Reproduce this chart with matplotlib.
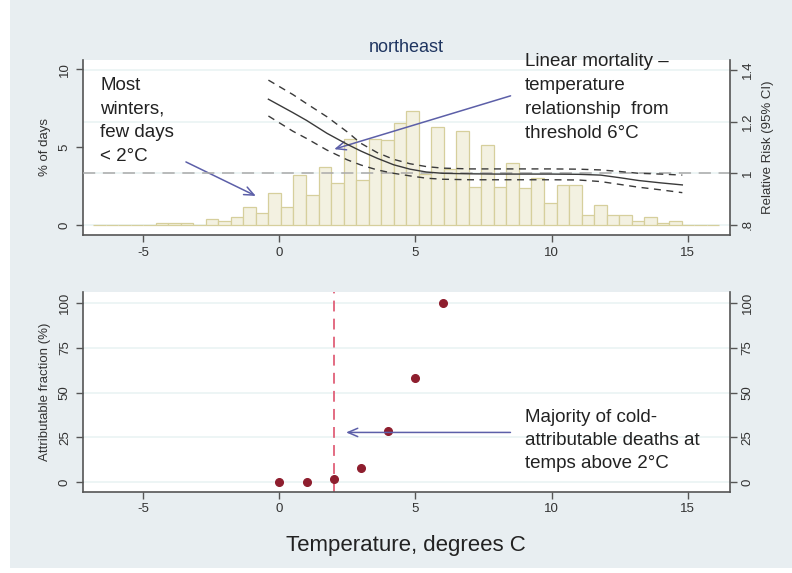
import matplotlib
matplotlib.use("Agg")
from matplotlib import pyplot as plt
from matplotlib.patches import Rectangle

plt.rcParams['font.family'] = ['Liberation Sans', 'DejaVu Sans']

# histogram of daily temperature (% of days), bins of 0.46 C starting at -6.84
hist_start = -6.84
bin_width = 0.46
pct_days = [0.02, 0.02, 0.02, 0.02, 0.02, 0.12, 0.12, 0.12, 0.03, 0.39,
            0.28, 0.49, 1.18, 0.79, 2.07, 1.18, 3.21, 1.95, 3.74, 2.72,
            5.55, 2.86, 5.55, 5.46, 6.55, 7.30, 3.30, 6.27, 3.60, 6.05,
            2.44, 5.14, 2.44, 3.98, 2.36, 3.00, 1.43, 2.57, 2.57, 0.64,
            1.28, 0.64, 0.64, 0.26, 0.49, 0.15, 0.26, 0.02, 0.02, 0.02]

# relative risk curve and 95% CI
rr_temp = [-0.4, 0.5, 1.0, 1.75, 2.5, 3.0, 3.6, 4.2, 4.8, 5.4, 6.0, 7.0,
           8.0, 9.0, 10.0, 11.0, 11.8, 12.5, 13.2, 14.0, 14.8]
rr_mid = [1.287, 1.235, 1.205, 1.155, 1.112, 1.086, 1.058, 1.033, 1.016,
          1.005, 1.000, 0.998, 0.997, 0.997, 0.997, 0.996, 0.993, 0.983,
          0.972, 0.963, 0.955]
rr_hi = [1.361, 1.305, 1.270, 1.219, 1.160, 1.116, 1.080, 1.054, 1.037,
         1.026, 1.020, 1.017, 1.017, 1.017, 1.017, 1.016, 1.013, 1.007,
         1.000, 0.997, 0.993]
rr_lo = [1.222, 1.163, 1.135, 1.090, 1.052, 1.032, 1.013, 1.000, 0.990,
         0.981, 0.977, 0.975, 0.975, 0.975, 0.975, 0.974, 0.968, 0.957,
         0.946, 0.936, 0.925]

# attributable fraction by threshold
af_temp = [0, 1, 2, 3, 4, 5, 6]
af_pct = [0, 0, 2, 8, 28.5, 58, 100]

xticks = [-5, 0, 5, 10, 15]
pct_ticks = [0, 5, 10]
rr_ticks = [0.8, 1.0, 1.2, 1.4]
rr_labels = ['.8', '1', '1.2', '1.4']
af_ticks = [0, 25, 50, 75, 100]

XLIM = (-7.22, 16.55)
BG = '#e8eef1'
AXC = '#555555'
TXT = '#333333'
ARROW = '#5c5fa8'

fig = plt.figure(figsize=(7.92, 5.73), dpi=100)
fig.patch.set_facecolor('white')
fig.patches.append(Rectangle((10 / 792, 5 / 573), 782 / 792, 568 / 573,
                             transform=fig.transFigure, facecolor=BG,
                             edgecolor='none', zorder=-10))

rect_top = [0.1044, 0.5899, 0.8173, 0.3054]
rect_bot = [0.1044, 0.1419, 0.8173, 0.3485]


def style_axis(ax, right=False):
    ax.spines['top'].set_visible(False)
    ax.spines['left'].set_visible(not right)
    ax.spines['right'].set_visible(right)
    for s in ['left', 'right', 'bottom']:
        ax.spines[s].set_color(AXC)
        ax.spines[s].set_linewidth(1.2)
    ax.tick_params(direction='out', length=5, width=1, color=AXC,
                   labelcolor=TXT, labelsize=9.5)


# ---- top panel ----
ax_g = fig.add_axes(rect_top, zorder=0)
ax_g.set_facecolor('white')
ax_g.set_xlim(XLIM)
ax_g.set_ylim(0.761, 1.439)
for v in rr_ticks:
    ax_g.axhline(v, color='#eaf3f3', lw=1.2)
ax_g.set_xticks([])
ax_g.set_yticks([])
for s in ax_g.spines.values():
    s.set_visible(False)

ax1 = fig.add_axes(rect_top, zorder=1)
ax1.patch.set_visible(False)
bin_left = [hist_start + bin_width * k for k in range(len(pct_days))]
ax1.bar(bin_left, pct_days, width=bin_width, align='edge',
        color='#f3f1e1', edgecolor='#d6cf9c', linewidth=0.9)
ax1.set_xlim(XLIM)
ax1.set_ylim(-0.64, 10.6)
ax1.set_xticks(xticks)
ax1.set_xticklabels([str(t) for t in xticks])
ax1.set_yticks(pct_ticks)
style_axis(ax1)
ax1.tick_params(axis='y', labelrotation=90)
for lab in ax1.get_yticklabels():
    lab.set_va('center')
ax1.set_ylabel('% of days', fontsize=9.5, color=TXT, labelpad=6)

ax1r = ax1.twinx()
ax1r.set_ylim(0.761, 1.439)
ax1r.axhline(1.0, color='#aaaaaa', lw=1.1, dashes=(8, 5))
ax1r.plot(rr_temp, rr_hi, color='#3a3a3a', lw=1.0, dashes=(5, 4))
ax1r.plot(rr_temp, rr_mid, color='#3a3a3a', lw=1.0)
ax1r.plot(rr_temp, rr_lo, color='#3a3a3a', lw=1.0, dashes=(5, 4))
ax1r.set_yticks(rr_ticks)
ax1r.set_yticklabels(rr_labels)
style_axis(ax1r, right=True)
ax1r.spines['bottom'].set_visible(False)
ax1r.tick_params(axis='y', labelrotation=90)
for lab in ax1r.get_yticklabels():
    lab.set_va('center')
ax1r.set_ylabel('Relative Risk (95% CI)', fontsize=9.5, color=TXT,
                labelpad=6)

ax1.set_title('northeast', fontsize=13, color='#1f3560', pad=6)

ax1r.text(-6.58, 1.375, 'Most\nwinters,\nfew days\n< 2\u00b0C', fontsize=13.5,
          color='#222222', va='top', ha='left', linespacing=1.52)
ax1r.text(9.02, 1.465, 'Linear mortality \u2013\ntemperature\n'
          'relationship  from\nthreshold 6\u00b0C', fontsize=13.5,
          color='#222222', va='top', ha='left', linespacing=1.52,
          clip_on=False)
ax1.annotate('', xy=(-0.77, 1.79), xytext=(-3.52, 4.13),
             arrowprops=dict(arrowstyle='->,head_length=0.7,head_width=0.3',
                             color=ARROW, lw=1.1))
ax1.annotate('', xy=(1.92, 4.82), xytext=(8.59, 8.35),
             arrowprops=dict(arrowstyle='->,head_length=0.7,head_width=0.3',
                             color=ARROW, lw=1.1))

# ---- bottom panel ----
ax2 = fig.add_axes(rect_bot)
ax2.set_facecolor('white')
ax2.set_xlim(XLIM)
ax2.set_ylim(-5.2, 106)
for v in af_ticks:
    ax2.axhline(v, color='#eaf3f3', lw=1.2, zorder=0)
ax2.axvline(2, color='#e06078', lw=1.3, dashes=(6, 4), zorder=1)
ax2.plot(af_temp, af_pct, 'o', color='#8e1e2e', markersize=5.5, zorder=3)
ax2.set_xticks(xticks)
ax2.set_xticklabels([str(t) for t in xticks])
ax2.set_yticks(af_ticks)
style_axis(ax2)
ax2.tick_params(axis='y', labelrotation=90)
for lab in ax2.get_yticklabels():
    lab.set_va('center')
ax2.set_ylabel('Attributable fraction (%)', fontsize=9.5, color=TXT,
               labelpad=6)
ax2.set_xlabel('Temperature, degrees C', fontsize=16, color='#222222',
               labelpad=14)

ax2r = ax2.twinx()
ax2r.set_ylim(-5.2, 106)
ax2r.set_yticks(af_ticks)
style_axis(ax2r, right=True)
ax2r.spines['bottom'].set_visible(False)
ax2r.tick_params(axis='y', labelrotation=90)
for lab in ax2r.get_yticklabels():
    lab.set_va('center')

ax2.text(9.02, 40.8, 'Majority of cold-\nattributable deaths at\n'
         'temps above 2\u00b0C', fontsize=13.5, color='#222222',
         va='top', ha='left', linespacing=1.45)
ax2.annotate('', xy=(2.35, 27.8), xytext=(8.59, 27.8),
             arrowprops=dict(arrowstyle='->,head_length=0.7,head_width=0.3',
                             color=ARROW, lw=1.1))

fig.savefig('out.png', dpi=100)
